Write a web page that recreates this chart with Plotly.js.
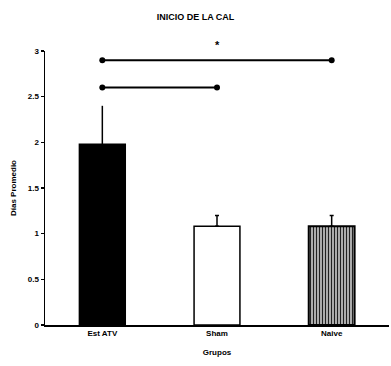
<!DOCTYPE html>
<html><head><meta charset="utf-8">
<script src="https://cdn.plot.ly/plotly-3.0.1.min.js"></script>
<style>html,body{margin:0;padding:0;background:#fff}</style>
</head><body><div id="chart" style="width:391px;height:366px"></div>
<script>
const categories = ["Est ATV", "Sham", "Naive"];
const means = [1.98, 1.08, 1.08];
const errUp = [0.42, 0.12, 0.12];
const sigPairA = ["Est ATV", "Sham"];
const sigA = [2.6, 2.6];
const sigPairB = ["Est ATV", "Naive"];
const sigB = [2.9, 2.9];
const starX = 1;          // category index (Sham)
const starY = 3.07;
const starText = "*";
const yTicks = [0, 0.5, 1, 1.5, 2, 2.5, 3];
const yTickText = ["0", "0.5", "1", "1.5", "2", "2.5", "3"];
const yRange = [0, 3];

const font = {family: "Liberation Sans, Arial, sans-serif", size: 8, color: "#000"};

const traces = [
  {type: "bar", x: [categories[0]], y: [means[0]], width: 0.4,
   marker: {color: "#000", line: {color: "#000", width: 1.5}},
   error_y: {type: "data", array: [errUp[0]], arrayminus: [0], symmetric: false, color: "#000", thickness: 1.5, width: 0},
   hoverinfo: "skip", showlegend: false},
  {type: "bar", x: [categories[1]], y: [means[1]], width: 0.4,
   marker: {color: "#fff", line: {color: "#000", width: 1.5}},
   error_y: {type: "data", array: [errUp[1]], arrayminus: [0], symmetric: false, color: "#000", thickness: 1.5, width: 2},
   hoverinfo: "skip", showlegend: false},
  {type: "bar", x: [categories[2]], y: [means[2]], width: 0.4,
   marker: {color: "#9a9a9a", line: {color: "#000", width: 2},
            pattern: {shape: "|", fgcolor: "#222", bgcolor: "#bbb", size: 3, solidity: 0.4}},
   error_y: {type: "data", array: [errUp[2]], arrayminus: [0], symmetric: false, color: "#000", thickness: 1.5, width: 2},
   hoverinfo: "skip", showlegend: false},
  {type: "scatter", mode: "lines+markers", x: sigPairA, y: sigA,
   line: {color: "#000", width: 2}, marker: {color: "#000", size: 6},
   cliponaxis: false, hoverinfo: "skip", showlegend: false},
  {type: "scatter", mode: "lines+markers", x: sigPairB, y: sigB,
   line: {color: "#000", width: 2}, marker: {color: "#000", size: 6},
   cliponaxis: false, hoverinfo: "skip", showlegend: false}
];

const layout = {
  width: 391, height: 366,
  margin: {l: 45, r: 2, t: 51, b: 41},
  paper_bgcolor: "#fff", plot_bgcolor: "#fff",
  font: font,
  title: {text: "<b>INICIO DE LA CAL</b>", font: {family: font.family, size: 9, color: "#000"}, x: 0.5, xanchor: "center", y: 0.955, yanchor: "middle"},
  xaxis: {
    type: "category", range: [-0.5, 2.5], showline: true, linecolor: "#000", linewidth: 1.5,
    ticks: "", showgrid: false, zeroline: false, fixedrange: true,
    tickfont: {family: font.family, size: 8, color: "#000", weight: "bold"},
    title: {text: "<b>Grupos</b>", font: {family: font.family, size: 8, color: "#000"}, standoff: 12}
  },
  yaxis: {
    range: yRange, tickvals: yTicks, ticktext: yTickText,
    showline: true, linecolor: "#000", linewidth: 1.5,
    ticks: "outside", ticklen: 3, tickwidth: 1.5, tickcolor: "#000",
    showgrid: false, zeroline: false, fixedrange: true,
    tickfont: {family: font.family, size: 8, color: "#000", weight: "bold"},
    title: {text: "<b>Días Promedio</b>", font: {family: font.family, size: 8, color: "#000"}, standoff: 10}
  },
  annotations: [
    {x: starX, xref: "x", y: (starY - yRange[0]) / (yRange[1] - yRange[0]), yref: "paper",
     text: "<b>" + starText + "</b>", showarrow: false, xanchor: "center", yanchor: "middle",
     font: {family: font.family, size: 11, color: "#000"}}
  ],
  bargap: 0.6
};

Plotly.newPlot("chart", traces, layout, {displayModeBar: false, staticPlot: true});
</script></body></html>
